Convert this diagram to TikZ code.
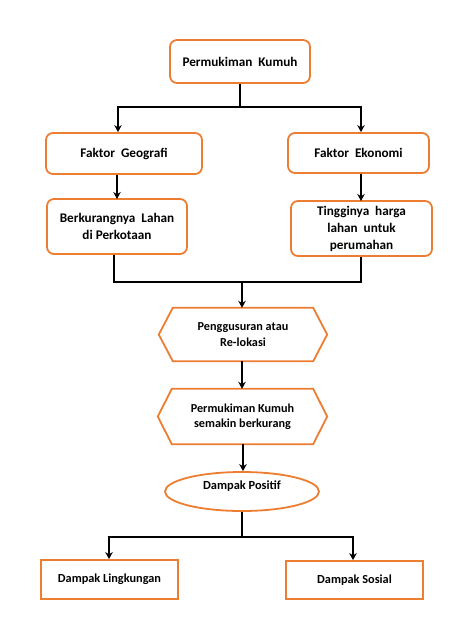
\documentclass[tikz,border=0pt]{standalone}
\usepackage{fontspec}
\setmainfont{Carlito}
\usetikzlibrary{arrows.meta,shapes.geometric}
\definecolor{borange}{RGB}{237,125,49}
\tikzset{
  box/.style={draw=borange,line width=1.8pt,fill=white,rounded corners=7pt,align=center,inner sep=0pt,font=\bfseries\fontsize{13.2}{17}\selectfont},
  sqbox/.style={draw=borange,line width=1.8pt,fill=white,align=center,inner sep=0pt,font=\bfseries\fontsize{12.3}{15}\selectfont},
  hexnode/.style={align=center,inner sep=0pt,font=\bfseries\fontsize{12.2}{15.5}\selectfont},
  hexline/.style={draw=borange,line width=1.8pt},
  conn/.style={line width=2.9pt,black},
  arr/.style={line width=2.9pt,black,-{Stealth[length=7pt,width=7.5pt]}},
}
\begin{document}
\begin{tikzpicture}[x=1pt,y=-1pt]
\useasboundingbox (0,0) rectangle (474,632);
\fill[white] (0,0) rectangle (474,632);
% top
\node[box,minimum width=140pt,minimum height=43pt] (pk) at (240,61.5) {Permukiman\ \ Kumuh};
\node[box,minimum width=156pt,minimum height=41pt] (fg) at (124,153.5) {Faktor\ \ Geografi};
\node[box,minimum width=141pt,minimum height=40pt] (fe) at (358.5,153) {Faktor\ \ Ekonomi};
\node[box,minimum width=140pt,minimum height=55pt] (bl) at (117,226.5) {Berkurangnya\ \ Lahan\\di Perkotaan};
\node[box,minimum width=141pt,minimum height=55pt] (th) at (361.5,228.5) {Tingginya\ \ harga\\lahan\ \ untuk\\perumahan};
% hexagons
\node[hexnode,minimum width=168pt,minimum height=53pt] (h1) at (243,334.5) {Penggusuran atau\\Re-lokasi};
\draw[hexline] (h1.west) -- ([xshift=14pt]h1.north west) -- ([xshift=-14pt]h1.north east) -- (h1.east) -- ([xshift=-14pt]h1.south east) -- ([xshift=14pt]h1.south west) -- cycle;
\node[hexnode,minimum width=169pt,minimum height=55pt] (h2) at (242.5,416.5) {Permukiman Kumuh\\semakin berkurang};
\draw[hexline] (h2.west) -- ([xshift=14pt]h2.north west) -- ([xshift=-14pt]h2.north east) -- (h2.east) -- ([xshift=-14pt]h2.south east) -- ([xshift=14pt]h2.south west) -- cycle;
% ellipse
\node[ellipse,draw=borange,line width=1.8pt,minimum width=154pt,minimum height=39pt,inner sep=0pt] (dp) at (242,491.5) {};
\node[font=\bfseries\fontsize{12.4}{14}\selectfont,anchor=center] (dpt) at (242,486) {Dampak Positif};
% bottom
\node[sqbox,minimum width=137pt,minimum height=39pt] (dl) at (109.5,579.5) {Dampak Lingkungan};
\node[sqbox,minimum width=137pt,minimum height=38pt] (ds) at (354.5,580) {Dampak Sosial};
% connectors
\coordinate (j1) at (240,107);
\coordinate (j1l) at (118,107);
\coordinate (j1r) at (361,107);
\draw[conn] (pk.south) -- (j1);
\draw[conn] ([xshift=-1.45pt]j1l) -- ([xshift=1.45pt]j1r);
\draw[arr] (j1l) -- (j1l |- fg.north);
\draw[arr] (j1r) -- (j1r |- fe.north);
\draw[arr] (fg.south -| 117,0) -- (117,199);
\draw[arr] (fe.south -| 361,0) -- (361,201);
\coordinate (j2l) at (114,282);
\coordinate (j2r) at (361,282);
\coordinate (j2) at (242,282);
\draw[conn] (bl.south -| j2l) -- (j2l) -- (j2r) -- (th.south -| j2r);
\draw[arr] (j2) -- (h1.north -| j2);
\draw[arr] (h1.south -| 242,0) -- (h2.north -| 242,0);
\draw[arr] (h2.south -| 243,0) -- (dp.north -| 243,0);
\coordinate (j3) at (242,537);
\coordinate (j3l) at (109,537);
\coordinate (j3r) at (353,537);
\draw[conn] (dp.south) -- (j3);
\draw[conn] ([xshift=-1.45pt]j3l) -- ([xshift=1.45pt]j3r);
\draw[arr] (j3l) -- (dl.north -| j3l);
\draw[arr] (j3r) -- (ds.north -| j3r);
\end{tikzpicture}
\end{document}
